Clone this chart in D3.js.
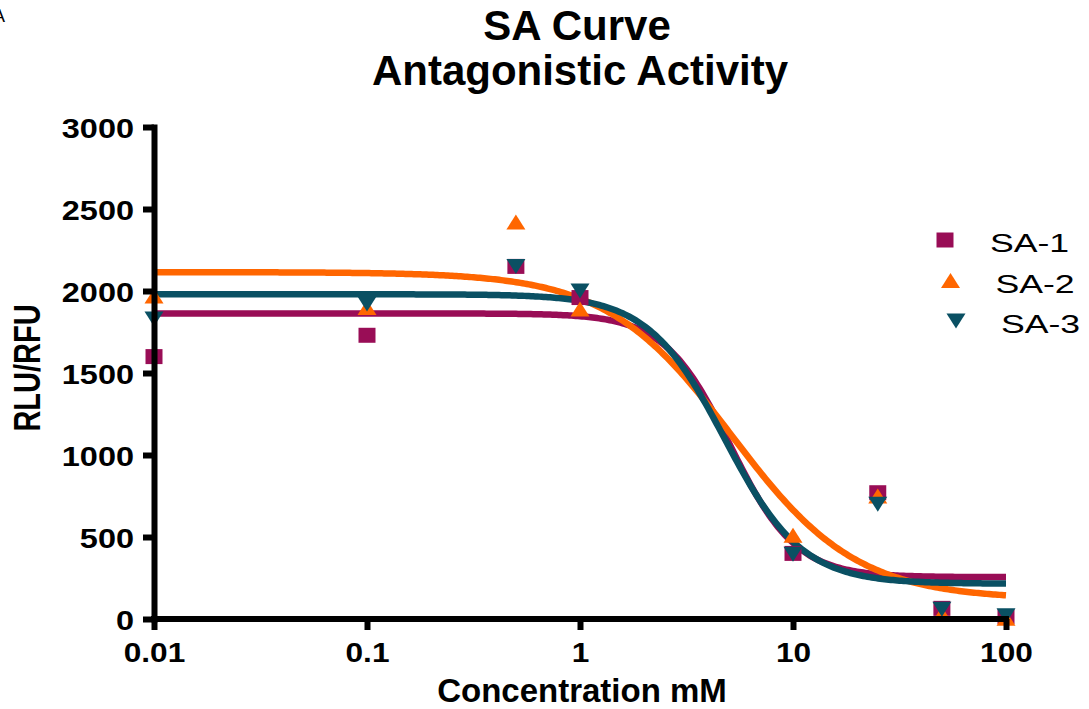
<!DOCTYPE html>
<html>
  <head>
    <meta charset="UTF-8">
    <style>
      body {
        margin: 0;
        background: #ffffff;
        font-family: "Liberation Sans", Arial, sans-serif;
      }

      .axis path,
      .axis line {
        stroke: #000;
        stroke-width: 6;
      }

      .axis .domain {
        stroke-linecap: square;
      }

      .tick text {
        font-size: 28px;
        font-weight: bold;
        fill: #000;
      }
    </style>
    <script src="https://d3js.org/d3.v7.min.js"></script>
  </head>

  <body>
    <svg id="sa-chart"></svg>

    <script type="text/javascript">
      // concentrations (mM)
      let concentrations = [0.01, 0.1, 0.5, 1, 10, 25, 50, 100]

      let seriesNames = ['SA-1', 'SA-2', 'SA-3']
      let seriesColors = ['#990d56', '#ff6600', '#0a5063']
      let seriesShapes = ['square', 'triangle-up', 'triangle-down']

      // RLU/RFU
      let sa1Values = [1600, 1730, 2150, 1960, 400, 770, 65, 15]
      let sa2Values = [1970, 1900, 2420, 1890, 510, 750, 30, 5]
      let sa3Values = [1830, 1920, 2150, 2000, 395, 700, 60, 20]

      // fitted 4PL curve parameters (top, bottom, logEC50, hill slope)
      let fitTop = [1863, 2115, 1980]
      let fitBottom = [255, 120, 215]
      let fitLogEC50 = [0.705, 0.713, 0.68]
      let fitHill = [2.8, 1.48, 2.4]

      let xTicks = [0.01, 0.1, 1, 10, 100]
      let xTickLabels = ['0.01', '0.1', '1', '10', '100']
      let yTicks = [0, 500, 1000, 1500, 2000, 2500, 3000]

      function getConfig() {
        let width = 1089
        let height = 709
        let container = d3.select('#sa-chart')
          .attr('width', width)
          .attr('height', height)
        let plot = {left: 154, right: 1006, top: 127, bottom: 619}
        return {width, height, container, plot}
      }

      function getScales(config) {
        let {plot} = config
        let xScale = d3.scaleLog()
          .domain([0.01, 100])
          .range([plot.left, plot.right])
        let yScale = d3.scaleLinear()
          .domain([0, 3000])
          .range([plot.bottom, plot.top])
        return {xScale, yScale}
      }

      function markerPath(shape) {
        if (shape == 'square') {
          return 'M-8.5,-7.5H8.5V7.5H-8.5Z'
        }
        if (shape == 'triangle-up') {
          return 'M0,-7.5L9.5,7.5H-9.5Z'
        }
        return 'M0,7.5L9.5,-7.5H-9.5Z'
      }

      function fourPL(i, c) {
        let span = fitTop[i] - fitBottom[i]
        return fitBottom[i] + span / (1 + Math.pow(10, fitHill[i] * (Math.log10(c) - fitLogEC50[i])))
      }

      function drawCurves(scales, config) {
        let {xScale, yScale} = scales
        let {container} = config
        let xs = d3.range(0, 401).map(i => Math.pow(10, -2 + 4 * i / 400))
        let line = d3.line()
          .x(d => xScale(d.c))
          .y(d => yScale(d.v))

        seriesNames.forEach((name, i) => {
          container.append('path')
            .datum(xs.map(c => ({c: c, v: fourPL(i, c)})))
            .attr('d', line)
            .attr('fill', 'none')
            .attr('stroke', seriesColors[i])
            .attr('stroke-width', 6.5)
        })
      }

      function drawPoints(scales, config) {
        let {xScale, yScale} = scales
        let {container} = config
        let allValues = [sa1Values, sa2Values, sa3Values]

        allValues.forEach((values, i) => {
          container.append('g')
            .selectAll('path')
            .data(values.map((v, j) => ({c: concentrations[j], v: v})))
            .enter()
            .append('path')
            .attr('d', markerPath(seriesShapes[i]))
            .attr('transform', d => `translate(${xScale(d.c)},${yScale(d.v)})`)
            .attr('fill', seriesColors[i])
        })
      }

      function drawAxes(scales, config) {
        let {xScale, yScale} = scales
        let {container, plot} = config

        let axisX = d3.axisBottom(xScale)
          .tickValues(xTicks)
          .tickFormat((d, i) => xTickLabels[i])
          .tickSize(11)
          .tickSizeOuter(0)

        let gx = container.append('g')
          .attr('class', 'axis')
          .attr('transform', `translate(0,${plot.bottom})`)
          .call(axisX)
        gx.select('.domain')
          .attr('d', `M${plot.left},0H${plot.right}`)
        gx.selectAll('.tick text')
          .attr('y', 43)
          .attr('dy', 0)
          .attr('transform', 'scale(1.13,1)')

        let axisY = d3.axisLeft(yScale)
          .tickValues(yTicks)
          .tickFormat(d => d)
          .tickSize(11)
          .tickSizeOuter(0)

        let gy = container.append('g')
          .attr('class', 'axis')
          .attr('transform', `translate(${plot.left},0)`)
          .call(axisY)
        gy.selectAll('.tick text')
          .attr('x', -20 / 1.16)
          .attr('dy', '0.36em')
          .attr('transform', 'scale(1.16,1)')
      }

      function drawTexts(config) {
        let {container} = config

        container.append('text')
          .attr('x', 5)
          .attr('y', 22)
          .attr('text-anchor', 'end')
          .style('font-size', '18px')
          .text('A')

        let title = container.append('text')
          .attr('text-anchor', 'middle')
          .style('font-size', '42px')
          .style('font-weight', 'bold')
        title.append('tspan')
          .attr('x', 577)
          .attr('y', 40)
          .text('SA Curve')
        title.append('tspan')
          .attr('x', 580)
          .attr('y', 85)
          .text('Antagonistic Activity')

        container.append('text')
          .attr('x', 582)
          .attr('y', 702)
          .attr('text-anchor', 'middle')
          .style('font-size', '33px')
          .style('font-weight', 'bold')
          .text('Concentration mM')

        container.append('text')
          .attr('transform', 'translate(40,368) rotate(-90) scale(1,1.3)')
          .attr('text-anchor', 'middle')
          .style('font-size', '29px')
          .style('font-weight', 'bold')
          .text('RLU/RFU')
      }

      function drawLegend(config) {
        let {container} = config

        let legend = container.selectAll('.legend')
          .data(seriesNames)
          .enter()
          .append('g')
          .attr('class', 'legend')
          .attr('transform', (d, i) => `translate(${945 + i * 5.5},${240 + i * 40.5})`)

        legend.append('path')
          .attr('d', (d, i) => markerPath(seriesShapes[i]))
          .attr('fill', (d, i) => seriesColors[i])

        legend.append('text')
          .attr('transform', 'translate(45,12) scale(1.37,1)')
          .style('font-size', '26px')
          .text(d => d)
      }

      function drawChart() {
        let config = getConfig()
        let scales = getScales(config)
        drawCurves(scales, config)
        drawPoints(scales, config)
        drawAxes(scales, config)
        drawTexts(config)
        drawLegend(config)
      }

      drawChart()
    </script>
  </body>
</html>
